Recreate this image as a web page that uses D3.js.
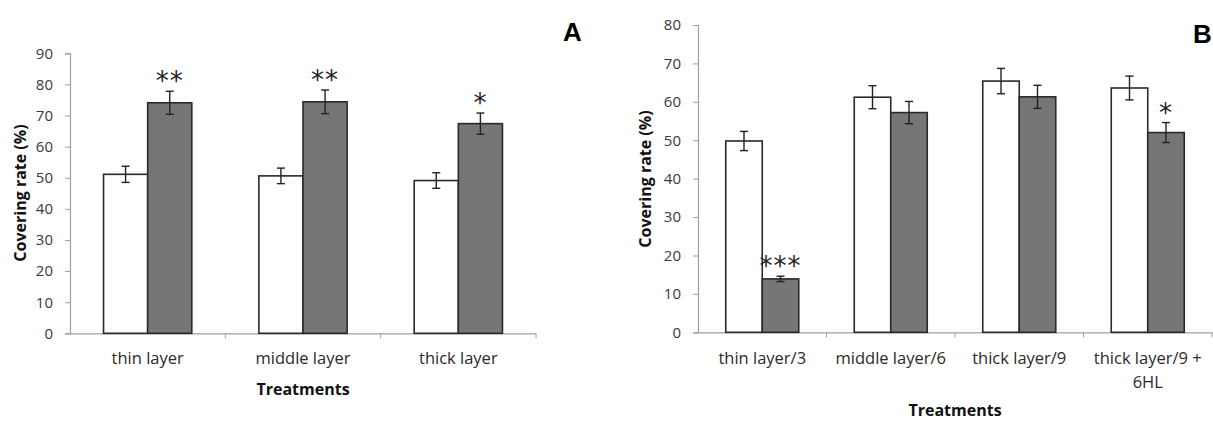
<!DOCTYPE html>
<html><head><meta charset="utf-8">
<script src="https://cdn.jsdelivr.net/npm/d3@7"></script>
<style>
body{margin:0;background:#fff;}
text{font-family:"Open Sans",Lato,sans-serif;}
</style></head>
<body><svg id="c" width="1213" height="423"></svg>
<script>
// ---- Data ----
const catsA = ["thin layer", "middle layer", "thick layer"];
const whiteA = [51.1, 50.6, 49.1];
const whiteErrA = [2.6, 2.5, 2.5];
const grayA = [74.1, 74.4, 67.4];
const grayErrA = [3.7, 3.8, 3.4];
const sigA = ["**", "**", "*"];
const ticksA = [0, 10, 20, 30, 40, 50, 60, 70, 80, 90];

const catsB = ["thin layer/3", "middle layer/6", "thick layer/9", "thick layer/9 + 6HL"];
const whiteB = [49.8, 61.2, 65.4, 63.6];
const whiteErrB = [2.5, 3.0, 3.3, 3.1];
const grayB = [13.9, 57.2, 61.3, 52.0];
const grayErrB = [0.7, 2.9, 3.0, 2.6];
const sigB = ["***", "", "", "*"];
const ticksB = [0, 10, 20, 30, 40, 50, 60, 70, 80];

const svg = d3.select("#c");

function panel(o) {
  const g = svg.append("g");
  const y = d3.scaleLinear().domain([0, o.ymax]).range([o.y0, o.y1]);
  const x = d3.scaleBand().domain(o.cats).range([o.x0, o.x1]).padding(0);
  const inner = d3.scaleBand().domain(["w", "g"]).range([0, x.bandwidth()]).paddingOuter(0.76).paddingInner(0);
  // y axis
  const ya = g.append("g").attr("transform", `translate(${o.x0},0)`)
    .call(d3.axisLeft(y).tickValues(o.ticks).tickSize(5).tickPadding(12));
  ya.select(".domain").attr("stroke", "#a0a0a0").attr("stroke-width", 1.2);
  ya.selectAll(".tick line").attr("stroke", "#a0a0a0");
  ya.selectAll(".tick text").attr("fill", "#3a3a3a").style("font-size", "15px")
    .style("font-family", "'Open Sans',sans-serif");
  // x axis
  const xa = g.append("g").attr("transform", `translate(0,${o.y0})`)
    .call(d3.axisBottom(x).tickSize(0).tickFormat(""));
  xa.select(".domain").attr("stroke", "#a0a0a0").attr("stroke-width", 1.2);
  const bounds = o.cats.map(c => x(c) + x.bandwidth());
  g.selectAll(".xt").data(bounds).enter().append("line")
    .attr("x1", d => d).attr("x2", d => d)
    .attr("y1", o.y0).attr("y2", o.y0 + 5).attr("stroke", "#a0a0a0");
  // bars
  const rows = o.cats.map((c, i) => [
    {c, k: "w", v: o.white[i], e: o.whiteErr[i], s: ""},
    {c, k: "g", v: o.gray[i], e: o.grayErr[i], s: o.sig[i]}
  ]).flat();
  g.selectAll("rect.bar").data(rows).enter().append("rect")
    .attr("x", d => x(d.c) + inner(d.k))
    .attr("y", d => y(d.v))
    .attr("width", inner.bandwidth())
    .attr("height", d => y(0) - y(d.v))
    .attr("fill", d => d.k === "w" ? "#ffffff" : "#767676")
    .attr("stroke", "#2a2a2a").attr("stroke-width", 1.6);
  const cx = d => x(d.c) + inner(d.k) + inner.bandwidth() / 2;
  const eb = g.selectAll("g.eb").data(rows).enter().append("g").attr("stroke", "#222").attr("stroke-width", 1.4);
  eb.append("line").attr("x1", cx).attr("x2", cx).attr("y1", d => y(d.v + d.e)).attr("y2", d => y(d.v - d.e));
  eb.append("line").attr("x1", d => cx(d) - 4).attr("x2", d => cx(d) + 4).attr("y1", d => y(d.v + d.e)).attr("y2", d => y(d.v + d.e));
  eb.append("line").attr("x1", d => cx(d) - 4).attr("x2", d => cx(d) + 4).attr("y1", d => y(d.v - d.e)).attr("y2", d => y(d.v - d.e));
  g.selectAll("text.sig").data(rows.filter(d => d.s)).enter().append("text")
    .attr("x", cx).attr("y", d => y(d.v + d.e) - 1)
    .attr("text-anchor", "middle").style("font-size", "26px").attr("fill", "#222")
    .style("font-family", "'DejaVu Sans',sans-serif").attr("letter-spacing", "1px")
    .text(d => d.s);
  // category labels
  const lab = g.selectAll("text.cat").data(o.cats).enter().append("text")
    .attr("x", c => x(c) + x.bandwidth() / 2).attr("y", o.labY)
    .attr("text-anchor", "middle").style("font-size", "16.5px").attr("fill", "#2a2a2a");
  lab.each(function (c) {
    const parts = c.indexOf("+") > 0 ? [c.slice(0, c.indexOf("+") + 1), c.slice(c.indexOf("+") + 2)] : [c];
    d3.select(this).selectAll("tspan").data(parts).enter().append("tspan")
      .attr("x", x(c) + x.bandwidth() / 2).attr("dy", (p, i) => i ? 24 : 0).text(p => p);
  });
  // axis titles
  g.append("text").attr("x", (o.x0 + o.x1) / 2).attr("y", o.titleY)
    .attr("text-anchor", "middle").style("font-size", "16px").style("font-weight", "bold").attr("fill", "#111")
    .text("Treatments");
  g.append("text").attr("transform", `translate(${o.ytX},${o.ytY}) rotate(-90)`)
    .attr("text-anchor", "middle").attr("dy", "0.35em").style("font-size", "16px").style("font-weight", "bold").attr("fill", "#111")
    .text("Covering rate (%)");
  g.append("text").attr("x", o.letterX).attr("y", o.letterY).attr("text-anchor", "start")
    .style("font-family", "'Liberation Sans',Arial,sans-serif").style("font-size", "26px").style("font-weight", "bold")
    .attr("fill", "#000").text(o.letter);
}

panel({cats: catsA, white: whiteA, whiteErr: whiteErrA, gray: grayA, grayErr: grayErrA, sig: sigA,
  ticks: ticksA, ymax: 90, x0: 70, x1: 536, y0: 333.3, y1: 53.3, labY: 364, titleY: 395, ytX: 20, ytY: 193,
  letter: "A", letterX: 563, letterY: 41});
panel({cats: catsB, white: whiteB, whiteErr: whiteErrB, gray: grayB, grayErr: grayErrB, sig: sigB,
  ticks: ticksB, ymax: 80, x0: 698, x1: 1212, y0: 332.3, y1: 25, labY: 364, titleY: 416, ytX: 645, ytY: 179,
  letter: "B", letterX: 1193, letterY: 43});
</script></body></html>
